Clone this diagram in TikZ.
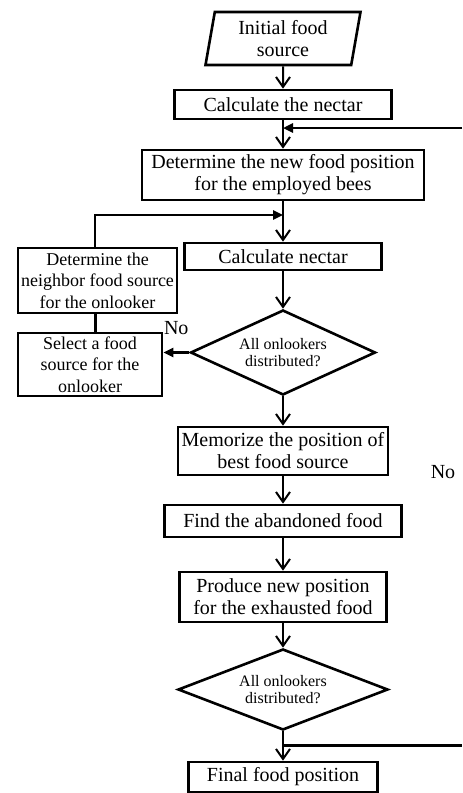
\documentclass[tikz,border=0pt]{standalone}
\usepackage{fontspec}
\setmainfont{Liberation Serif}
\usetikzlibrary{shapes.geometric,arrows.meta}

\begin{document}
\begin{tikzpicture}[x=0.5pt,y=-0.5pt,
        caixa/.style={draw, line width=1.3pt, align=center, inner sep=1pt, font=\fontsize{10}{11}\selectfont},
        caixinha/.style={caixa, font=\fontsize{9}{10.8}\selectfont},
        losango/.style={draw, diamond, aspect=2.2, line width=1.3pt, align=center, inner sep=1pt, font=\fontsize{8}{8.6}\selectfont},
        seta/.style={-{Straight Barb[length=5pt,width=7pt]}, line width=1pt},
        setacheia/.style={-{Triangle[length=5pt,width=4.5pt]}, line width=1.2pt},
        linha/.style={line width=1.5pt}]
        \useasboundingbox (0,0) rectangle (462,793);
        % Fonte inicial
        \node[caixa, trapezium, trapezium left angle=77, trapezium right angle=103, trapezium stretches body, minimum width=77.5pt, minimum height=26.5pt] (inicio) at (283,38.5) {Initial food\\source};
        % Abelhas empregadas
        \node[caixa, minimum width=108.5pt, minimum height=14.5pt] (nectar) at (283,104.5) {Calculate the nectar};
        \node[caixa, minimum width=141pt, minimum height=25pt] (novapos) at (283,175) {Determine the new food position\\for the employed bees};
        \node[caixa, minimum width=98.5pt, minimum height=13.5pt] (nectardois) at (283,256.5) {Calculate nectar};
        \node[losango, minimum width=92.5pt, minimum height=42.5pt] (decum) at (283,352.5) {All onlookers\\distributed?};
        % Abelhas observadoras
        \node[caixinha, minimum width=79.5pt, minimum height=32.5pt] (vizinha) at (97.5,280.5) {Determine the\\neighbor food source\\for the onlooker};
        \node[caixinha, minimum width=72pt, minimum height=31.5pt] (seleciona) at (90,364.5) {Select a food\\source for the\\onlooker};
        % Memoria e escoteiras
        \node[caixa, minimum width=105pt, minimum height=24pt] (memoriza) at (283,451) {Memorize the position of\\best food source};
        \node[caixa, minimum width=118.5pt, minimum height=16pt] (abandona) at (283,521) {Find the abandoned food};
        \node[caixa, minimum width=103.5pt, minimum height=25pt] (produz) at (283,597) {Produce new position\\for the exhausted food};
        \node[losango, minimum width=105pt, minimum height=40.5pt] (decdois) at (283,689.5) {All onlookers\\distributed?};
        \node[caixa, minimum width=94.5pt, minimum height=15pt] (final) at (283,777) {Final food position};
        % Pontos auxiliares
        \coordinate (voltaent) at (462,128);
        \coordinate (juncao) at (283,128);
        \coordinate (dobra) at (95,215);
        \coordinate (juncaodois) at (283,215);
        \coordinate (juncaotres) at (283,745);
        \coordinate (voltasai) at (462,745);
        % Setas principais
        \draw[seta] (inicio) -- (nectar);
        \draw[seta] (nectar) -- (novapos);
        \draw[seta] (novapos) -- (nectardois);
        \draw[seta] (nectardois) -- (decum);
        \draw[seta] (decum) -- (memoriza);
        \draw[seta] (memoriza) -- (abandona);
        \draw[seta] (abandona) -- (produz);
        \draw[seta] (produz) -- (decdois);
        \draw[seta] (decdois) -- (final);
        % Lacos
        \draw[setacheia] (voltaent) -- (juncao);
        \draw[setacheia] (decum.west) -- (decum.west -| seleciona.east) node[pos=0.5, above=5pt, font=\fontsize{10}{11}\selectfont] (nao) {No};
        \draw[linha] (seleciona.north -| dobra) -- (vizinha.south -| dobra);
        \draw[setacheia] (vizinha.north -| dobra) -- (dobra) -- (juncaodois);
        \draw[linha] (juncaotres) -- (voltasai);
        \node[font=\fontsize{10}{11}\selectfont] (naodois) at (443,472) {No};
\end{tikzpicture}
\end{document}
